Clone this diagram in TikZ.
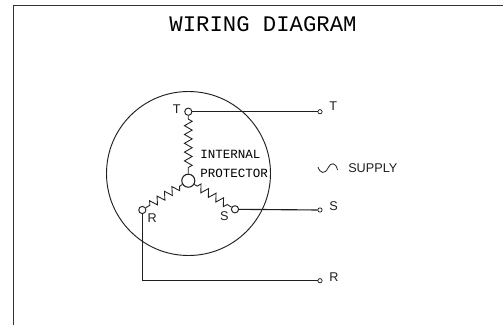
\documentclass[tikz,border=0pt]{standalone}
\usepackage{fontspec}
\setmainfont{Liberation Sans}
\newfontfamily\monof{Liberation Mono}
\usetikzlibrary{decorations.pathmorphing}
\definecolor{ink}{gray}{0.12}
\tikzset{
  wire/.style={draw=ink,line width=0.85pt},
  term/.style={circle,draw=ink,line width=0.7pt,fill=white,inner sep=0pt,minimum size=5.4pt},
  hub/.style={circle,draw=ink,line width=0.8pt,fill=white,inner sep=0pt,minimum size=9.8pt},
  outterm/.style={circle,draw=ink,line width=0.55pt,fill=white,inner sep=0pt,minimum size=3.2pt},
  coil/.style={draw=ink,line width=0.65pt,decorate,decoration={zigzag,segment length=6.6pt,amplitude=2.9pt,pre length=2.5pt,post length=2.5pt}},
  lab/.style={font=\fontsize{9.5pt}{10pt}\selectfont,text=ink,inner sep=0pt},
  monolab/.style={font=\monof\fontsize{9.4pt}{10pt}\selectfont,text=black,inner sep=0pt,anchor=west},
  titlelab/.style={font=\monof\fontsize{16.7pt}{18pt}\selectfont,text=black,inner sep=0pt}
}
\begin{document}
\begin{tikzpicture}[x=0.75pt,y=-0.75pt]
\useasboundingbox (0,0) rectangle (503,325);
\fill[white] (0,0) rectangle (503,325);
\coordinate (frameBL) at (13.3,325);
\coordinate (frameTL) at (13.3,5.7);
\coordinate (frameTR) at (503,5.7);
\draw[draw=black!80,line width=0.9pt] (frameBL) -- (frameTL) -- (frameTR);
\node[titlelab] (title) at (263,24) {WIRING DIAGRAM};
\node[circle,draw=ink,line width=0.7pt,minimum size=123pt,inner sep=0pt] (motor) at (188.5,173.5) {};
\node[term] (tT) at (188.3,111.7) {};
\node[hub] (hub) at (188.3,180.7) {};
\node[term] (tR) at (142.3,210) {};
\node[term] (tS) at (235,209.3) {};
\draw[coil] (tT) -- (hub);
\draw[coil] (hub) -- (tR);
\draw[coil] (hub) -- (tS);
\node[outterm] (oT) at (320,111.7) {};
\node[outterm] (oS) at (320,210) {};
\node[outterm] (oR) at (320,280.7) {};
\draw[wire] (tT) -- (oT);
\draw[wire] (tS) -- (oS);
\draw[wire] (tR) |- (oR);
\node[lab] (lT) at (176.7,109) {T};
\node[lab] (lR) at (152.3,217.7) {R};
\node[lab] (lS) at (224.3,216) {S};
\node[monolab] (lI) at (200,154) {INTERNAL};
\node[monolab] (lP) at (200,173) {PROTECTOR};
\node[lab,anchor=west] (rT) at (329,106) {T};
\node[lab,anchor=west] (rS) at (329,206) {S};
\node[lab,anchor=west] (rR) at (329,276.7) {R};
\node[lab,anchor=west] (sup) at (348,168) {SUPPLY};
\coordinate (w0) at (318,167);
\coordinate (w1) at (328,168);
\coordinate (w2) at (337.5,170);
\draw[draw=ink,line width=0.6pt] (w0) .. controls (320,173.5) and (325,174.5) .. (w1) .. controls (330.5,162) and (336,162) .. (w2);
\end{tikzpicture}
\end{document}
